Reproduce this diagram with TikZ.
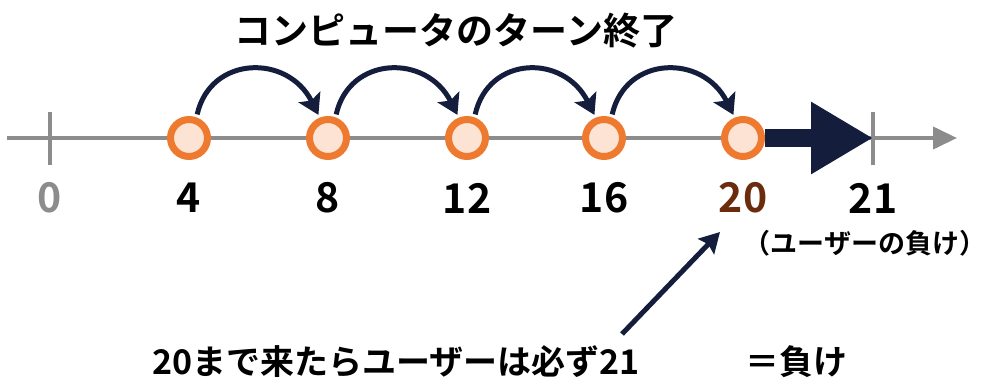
\documentclass[tikz,border=0pt]{standalone}
\usepackage{fontspec}
\setmainfont{Noto Sans CJK JP}[BoldFont={* Bold}]
\usetikzlibrary{arrows.meta}
\definecolor{navy}{HTML}{141E3C}
\definecolor{ring}{HTML}{EE7A2F}
\definecolor{peach}{HTML}{FCE3D3}
\definecolor{brownish}{HTML}{6B2C0E}
\definecolor{axisgray}{HTML}{8C8C8C}
\begin{document}
\begin{tikzpicture}[x=1pt,y=-1pt,
  stone/.style={circle,draw=ring,line width=7pt,fill=peach,minimum size=37pt,inner sep=0pt},
  tickmark/.style={rectangle,fill=axisgray,minimum width=4pt,minimum height=53pt,inner sep=0pt},
  numlab/.style={font=\fontsize{41}{41}\selectfont\bfseries,inner sep=0pt},
  hop/.style={draw=navy,line width=5pt,-{Stealth[length=20pt,width=24pt,inset=4pt]},shorten >=3pt,shorten <=3pt},
  bigarrow/.style={draw=navy,line width=18pt,-{Triangle[length=62pt,width=68pt]}},
  pointer/.style={draw=navy,line width=5pt,-{Stealth[length=20pt,width=22pt,inset=3pt]}},
  axisline/.style={draw=axisgray,line width=4pt,-{Triangle[length=24pt,width=22pt]}},
  txt/.style={inner sep=0pt,font=\bfseries}]
\useasboundingbox (0,0) rectangle (990,388);
% axis
\coordinate (axL) at (7,138);
\coordinate (axR) at (957,138);
\draw[axisline] (axL) -- (axR);
\node[tickmark] (t0) at (50,138) {};
\node[tickmark] (t21) at (873,138) {};
% stones
\node[stone] (c4) at (189,138) {};
\node[stone] (c8) at (328,138) {};
\node[stone] (c12) at (467,138) {};
\node[stone] (c16) at (604,138) {};
\node[stone] (c20) at (743,138) {};
% big arrow
\draw[bigarrow] (c20.east) -- (t21.center);
% hops
\foreach \a/\b in {c4/c8,c8/c12,c12/c16,c16/c20}{
  \draw[hop] (\a.70) .. controls ([shift={(14,-62)}]\a.70) and ([shift={(-32,-64)}]\b.112) .. (\b.112);
}
% labels
\node[numlab,text=axisgray] (l0) at (50,198) {0};
\node[numlab] (l4) at (189,198) {4};
\node[numlab] (l8) at (328,198) {8};
\node[numlab] (l12) at (467,198) {12};
\node[numlab] (l16) at (604,198) {16};
\node[numlab,text=brownish] (l20) at (743,198) {20};
\node[numlab] (l21) at (873,198) {21};
% texts
\node[txt,font=\fontsize{37}{37}\selectfont\bfseries] (title) at (456,31) {コンピュータのターン終了};
\node[txt,font=\fontsize{27}{27}\selectfont\bfseries] (lose) at (865,243) {（ユーザーの負け）};
\node[txt,font=\fontsize{34}{34}\selectfont\bfseries,anchor=west] (note) at (152,362) {20まで来たらユーザーは必ず21};
\node[txt,font=\fontsize{34}{34}\selectfont\bfseries,anchor=west] (eq) at (745,362) {＝負け};
% pointer
\coordinate (src) at (622,334);
\coordinate (tip) at (720,232);
\draw[pointer] (src) -- (tip);
\end{tikzpicture}
\end{document}
